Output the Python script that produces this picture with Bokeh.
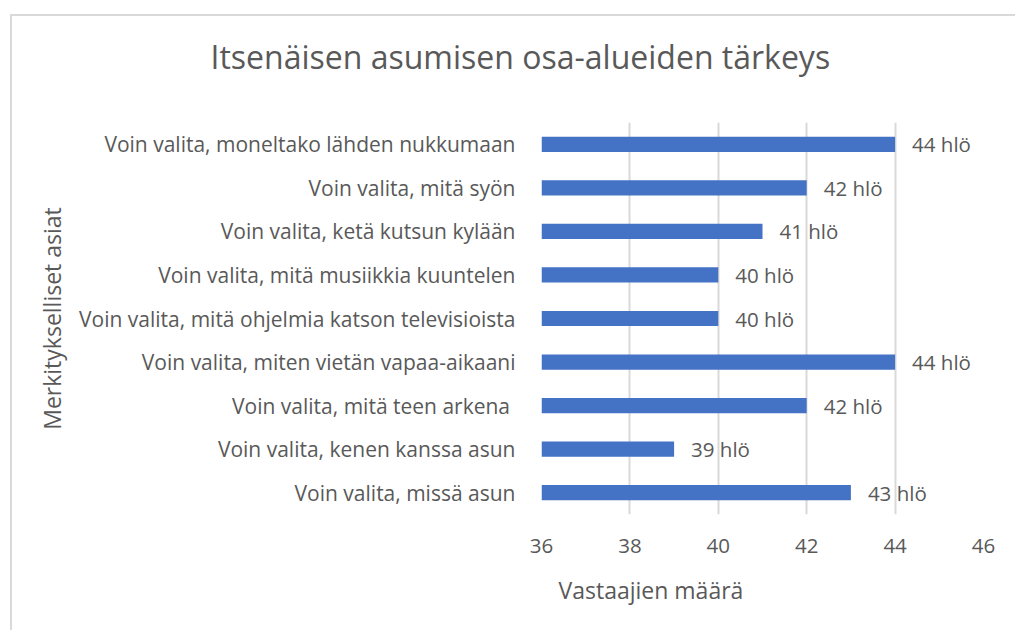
from bokeh.plotting import figure
from bokeh.models import Range1d, FactorRange, FixedTicker, ColumnDataSource, Title
from bokeh.core.properties import value
from bokeh.embed import file_html
from bokeh.resources import INLINE

# data, top to bottom as in the reference
categories = [
    "Voin valita, moneltako lähden nukkumaan",
    "Voin valita, mitä syön",
    "Voin valita, ketä kutsun kylään",
    "Voin valita, mitä musiikkia kuuntelen",
    "Voin valita, mitä ohjelmia katson televisioista",
    "Voin valita, miten vietän vapaa-aikaani",
    "Voin valita,  mitä teen arkena",
    "Voin valita, kenen kanssa asun",
    "Voin valita, missä asun",
]
values = [44, 42, 41, 40, 40, 44, 42, 39, 43]
x_ticks = [36, 38, 40, 42, 44, 46]
title_text = "Itsenäisen asumisen osa-alueiden tärkeys"
x_label = "Vastaajien määrä"
y_label = "Merkitykselliset asiat"
unit = "hlö"

FONT = "Open Sans"
TXT = "#595959"

src = ColumnDataSource(dict(
    cat=categories,
    val=values,
    base=[x_ticks[0]] * len(values),
    lab=[f"{v} {unit}" for v in values],
))

W, H = 1005, 616
p = figure(
    width=W, height=H,
    y_range=FactorRange(factors=categories[::-1]),
    x_range=Range1d(x_ticks[0], x_ticks[-1]),
    output_backend="svg", toolbar_location=None,
    min_border_left=529, min_border_right=34, min_border_top=106, min_border_bottom=118,
)
p.styles = {"margin-left": "10px", "margin-top": "14px",
            "border-left": "2px solid #d9d9d9", "border-top": "2px solid #d9d9d9"}
p.outline_line_color = None

p.hbar(y="cat", left="base", right="val", height=0.35, source=src,
       fill_color="#4472C4", line_color=None)
p.text(x="val", y="cat", text="lab", source=src, x_offset=17,
       text_font=value(FONT), text_font_size="20.5px", text_color=TXT,
       text_baseline="middle", text_align="left")

p.xaxis.ticker = FixedTicker(ticks=x_ticks)
for ax in (p.xaxis[0], p.yaxis[0]):
    ax.axis_line_color = None
    ax.major_tick_line_color = None
    ax.minor_tick_line_color = None
    ax.major_label_text_font = FONT
    ax.major_label_text_color = TXT
p.xaxis.major_label_text_font_size = "20.5px"
p.yaxis.major_label_text_font_size = "21px"
p.xaxis.major_label_standoff = 18
p.yaxis.major_label_standoff = 20

p.yaxis.axis_label = y_label
p.yaxis.axis_label_text_font = FONT
p.yaxis.axis_label_text_font_size = "23px"
p.yaxis.axis_label_text_font_style = "normal"
p.yaxis.axis_label_text_color = TXT
p.yaxis.axis_label_standoff = 8

p.xgrid.grid_line_color = "#d9d9d9"
p.xgrid.grid_line_width = 2
p.ygrid.grid_line_color = None

# spacer between the frame and the chart title
spacer = Title(text=" ", text_font_size="1px", standoff=42)
p.add_layout(spacer, "above")
ttl = Title(text=title_text, align="left", offset=-331, standoff=0,
            text_font=FONT, text_font_size="32px", text_font_style="normal", text_color=TXT)
p.add_layout(ttl, "above")

xl = Title(text=x_label, align="left", offset=17, standoff=32,
           text_font=FONT, text_font_size="23px", text_font_style="normal", text_color=TXT)
p.add_layout(xl, "below")

open("out.html", "w").write(file_html(p, INLINE))
